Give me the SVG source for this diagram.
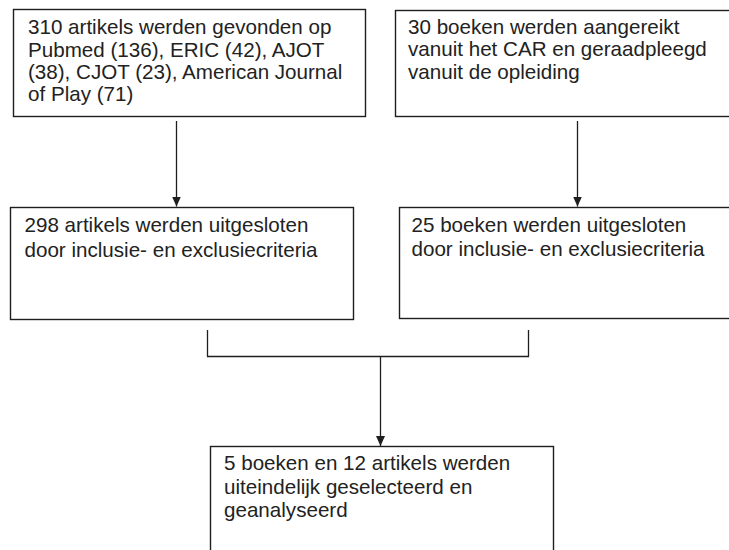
<svg xmlns="http://www.w3.org/2000/svg" width="729" height="550" viewBox="0 0 729 550">
<style>
.box{fill:#fff;stroke:#1e1e1e;stroke-width:1.4}
.t{font-family:"Liberation Sans",Arial,sans-serif;font-size:20.6px;fill:#222}
.c{fill:none;stroke:#1e1e1e;stroke-width:1.3}
</style>
<defs>
<marker id="ah" viewBox="0 0 10 10" refX="10" refY="5" markerWidth="10" markerHeight="10" markerUnits="userSpaceOnUse" orient="auto">
<path d="M0,0.5 L10,5 L0,9.5 z" fill="#1e1e1e"/>
</marker>
</defs>
<rect width="729" height="550" fill="#fff"/>
<g id="connectors">
<line class="c" x1="176.5" y1="121" x2="176.5" y2="206.5" marker-end="url(#ah)"/>
<line class="c" x1="577.5" y1="121" x2="577.5" y2="206.5" marker-end="url(#ah)"/>
<path class="c" d="M207.5,330 V356.5 H528.5 V330"/>
<line class="c" x1="380.5" y1="356.5" x2="380.5" y2="446" marker-end="url(#ah)"/>
</g>
<g id="n1">
<rect class="box" x="13.5" y="9.5" width="352" height="107"/>
<text class="t" x="28" y="34">310 artikels werden gevonden op</text>
<text class="t" x="28" y="56.5">Pubmed (136), ERIC (42), AJOT</text>
<text class="t" x="28" y="79">(38), CJOT (23), American Journal</text>
<text class="t" x="28" y="101">of Play (71)</text>
</g>
<g id="n2">
<rect class="box" x="395.5" y="10.5" width="345" height="106"/>
<text class="t" x="408" y="33.5">30 boeken werden aangereikt</text>
<text class="t" x="408" y="56">vanuit het CAR en geraadpleegd</text>
<text class="t" x="408" y="79">vanuit de opleiding</text>
</g>
<g id="n3">
<rect class="box" x="10.5" y="207.5" width="343" height="112"/>
<text class="t" x="24.5" y="231.5">298 artikels werden uitgesloten</text>
<text class="t" x="24.5" y="256.5">door inclusie- en exclusiecriteria</text>
</g>
<g id="n4">
<rect class="box" x="399.5" y="207.5" width="341" height="111"/>
<text class="t" x="411.5" y="231.5">25 boeken werden uitgesloten</text>
<text class="t" x="411.5" y="256">door inclusie- en exclusiecriteria</text>
</g>
<g id="n5">
<rect class="box" x="210.5" y="446.5" width="343" height="120"/>
<text class="t" x="224" y="469.5">5 boeken en 12 artikels werden</text>
<text class="t" x="224" y="494">uiteindelijk geselecteerd en</text>
<text class="t" x="224" y="517">geanalyseerd</text>
</g>
</svg>
